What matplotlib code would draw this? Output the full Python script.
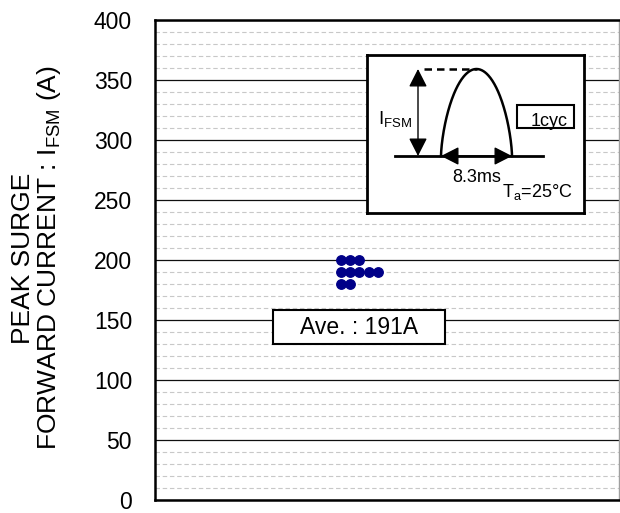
import numpy as np
import matplotlib
matplotlib.use('Agg')
import matplotlib.pyplot as plt
from matplotlib.patches import Rectangle

plt.rcParams['font.family'] = 'sans-serif'
plt.rcParams['font.sans-serif'] = ['Liberation Sans', 'DejaVu Sans']
plt.rcParams['mathtext.fontset'] = 'custom'
plt.rcParams['mathtext.rm'] = 'Liberation Sans'
plt.rcParams['mathtext.it'] = 'Liberation Sans'

# measured surge current values (A), one dot per sample
levels = [200, 190, 180]
counts = [3, 5, 2]
average = 191
yticks = [0, 50, 100, 150, 200, 250, 300, 350, 400]

W, H = 620, 513
fig = plt.figure(figsize=(W / 100, H / 100), dpi=100)
ax = fig.add_axes([155 / W, 13 / H, 464 / W, 480 / H])

ax.set_ylim(0, 400)
ax.set_xlim(0, 1)
ax.set_yticks(yticks)
ax.set_yticks(np.arange(0, 401, 10), minor=True)
ax.set_xticks([])
ax.tick_params(axis='y', which='both', length=0, pad=16.5, labelsize=16.5)

ax.grid(axis='y', which='minor', color='#c8c8c8', linestyle=(0, (4, 2.5)), linewidth=0.8)
ax.grid(axis='y', which='major', color='#101010', linestyle='-', linewidth=0.9)
ax.set_axisbelow(True)

for s in ['left', 'bottom', 'top']:
    ax.spines[s].set_linewidth(1.8)
    ax.spines[s].set_color('black')
ax.spines['right'].set_linewidth(1.0)
ax.spines['right'].set_color('#a0a0a0')

# dot plot: stack samples sideways at each level
x0, dx = 0.400, 0.0201
for lv, n in zip(levels, counts):
    xs = x0 + dx * np.arange(n)
    ax.plot(xs, [lv] * n, 'o', color='#000088', markersize=6.8, zorder=3)

# average box
ax.add_patch(Rectangle((0.254, 130), 0.371, 28.5, facecolor='white',
                       edgecolor='black', linewidth=1.5, zorder=4))
ax.text(0.44, 144, f"Ave. : {average}A", ha='center', va='center',
        fontsize=16.5, zorder=5)

fig.text(37 / W, (H - 258) / H, "PEAK SURGE\nFORWARD CURRENT : I$_{\\rm FSM}$ (A)",
         rotation=90, ha='center', va='center', fontsize=19, multialignment='center',
         linespacing=1.0)

# inset waveform sketch (pixel units inside the box)
ins = fig.add_axes([367 / W, (H - 213) / H, 217 / W, 158 / H])
ins.set_xlim(0, 217)
ins.set_ylim(158, 0)
ins.set_xticks([])
ins.set_yticks([])
for s in ins.spines.values():
    s.set_linewidth(2)
    s.set_color('black')

base, peak = 101, 14
ins.plot([28, 176], [base, base], color='black', lw=2)
th = np.linspace(0, np.pi, 200)
cx, a = 109.5, 35.5
ins.plot(cx + a * np.cos(th), base - (base - peak) * np.sin(th) ** 1.3, color='black', lw=1.8)
ins.plot([57, cx], [peak, peak], color='black', lw=1.8, linestyle=(0, (3, 2)))
arrow = dict(arrowstyle='<|-|>,head_length=0.55,head_width=0.28', color='black',
             lw=1.0, mutation_scale=20, shrinkA=0, shrinkB=0)
ins.annotate('', xy=(51, peak), xytext=(51, base), arrowprops=arrow)
ins.annotate('', xy=(74, base), xytext=(145, base), arrowprops=arrow)
ins.text(11, 69, "I$_{\\rm FSM}$", ha='left', va='baseline', fontsize=13.5)
ins.text(85, 127, "8.3ms", ha='left', va='baseline', fontsize=13)
ins.text(135, 142, "T$_{\\rm a}$=25°C", ha='left', va='baseline', fontsize=13)
ins.add_patch(Rectangle((150, 50), 57, 23, facecolor='white', edgecolor='black', lw=1.5))
ins.text(201, 70.5, "1cyc", ha='right', va='baseline', fontsize=13)

fig.savefig('out.png', dpi=100)
